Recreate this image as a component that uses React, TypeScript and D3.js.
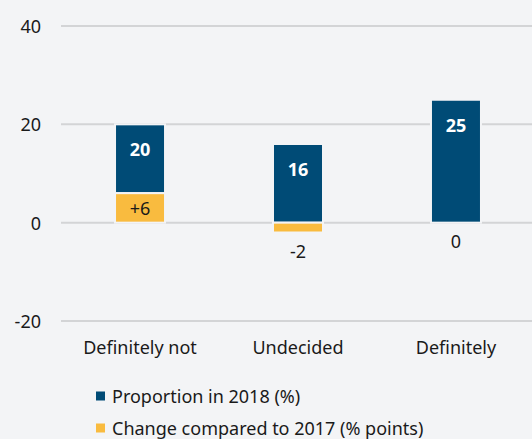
import React from "react";
import * as d3 from "d3";

const categories = ["Definitely not", "Undecided", "Definitely"];
const proportion2018 = [20, 16, 25];
const change2017 = [6, -2, 0];
const changeLabels = ["+6", "-2", "0"];
const yTicks = [-20, 0, 20, 40];
const legendLabels = ["Proportion in 2018 (%)", "Change compared to 2017 (% points)"];

const width = 532;
const height = 439;
const bg = "#f3f4f6";
const blue = "#004b76";
const yellow = "#f9bb3f";
const font = "'Noto Sans', 'Open Sans', sans-serif";
const fs = 18;

const App = () => {
  const x = d3
    .scaleBand()
    .domain(categories)
    .range([61, 535])
    .paddingInner(0.6835)
    .paddingOuter(0.342);

  const y = d3.scaleLinear().domain([-20, 40]).range([321, 26]);

  return (
    <svg
      width={width}
      height={height}
      style={{ position: "absolute", left: 0, top: 0, display: "block" }}
      fontFamily={font}
    >
      <rect width={width} height={height} fill={bg} />

      {/* gridlines and y labels */}
      {yTicks.map((t) => (
        <g key={t}>
          <line x1={61} x2={width} y1={y(t)} y2={y(t)} stroke="#d3d4d6" strokeWidth={2} />
          <text
            x={41}
            y={y(t)}
            textAnchor="end"
            dominantBaseline="central"
            fontSize={fs}
            fill="#1a1a1a"
          >
            {t}
          </text>
        </g>
      ))}

      {/* bars */}
      {categories.map((c, i) => {
        const x0 = x(c);
        const bw = x.bandwidth();
        const ch = change2017[i];
        const base = Math.max(0, ch);
        const cx = x0 + bw / 2;
        return (
          <g key={c}>
            <rect
              x={x0}
              y={y(proportion2018[i])}
              width={bw}
              height={y(base) - y(proportion2018[i])}
              fill={blue}
              stroke={bg}
              strokeWidth={2}
            />
            {ch !== 0 && (
              <rect
                x={x0}
                y={y(Math.max(0, ch))}
                width={bw}
                height={Math.abs(y(ch) - y(0))}
                fill={yellow}
                stroke={bg}
                strokeWidth={2}
              />
            )}
            <text
              x={cx}
              y={y(proportion2018[i]) + 25}
              textAnchor="middle"
              dominantBaseline="central"
              fontSize={fs}
              fontWeight="bold"
              fill="#fff"
            >
              {proportion2018[i]}
            </text>
            <text
              x={cx}
              y={ch > 0 ? (y(ch) + y(0)) / 2 : y(Math.min(0, ch)) + 18}
              textAnchor="middle"
              dominantBaseline="central"
              fontSize={fs}
              fill="#1a1a1a"
            >
              {changeLabels[i]}
            </text>
            <text
              x={cx}
              y={347}
              textAnchor="middle"
              dominantBaseline="central"
              fontSize={fs}
              fill="#1a1a1a"
            >
              {c}
            </text>
          </g>
        );
      })}

      {/* legend */}
      {legendLabels.map((l, i) => (
        <g key={l} transform={`translate(96,${396 + i * 32})`}>
          <rect x={0} y={-4.5} width={9} height={9} fill={i === 0 ? blue : yellow} />
          <text x={16} y={0} dominantBaseline="central" fontSize={fs} fill="#1a1a1a">
            {l}
          </text>
        </g>
      ))}
    </svg>
  );
};

export default App;
